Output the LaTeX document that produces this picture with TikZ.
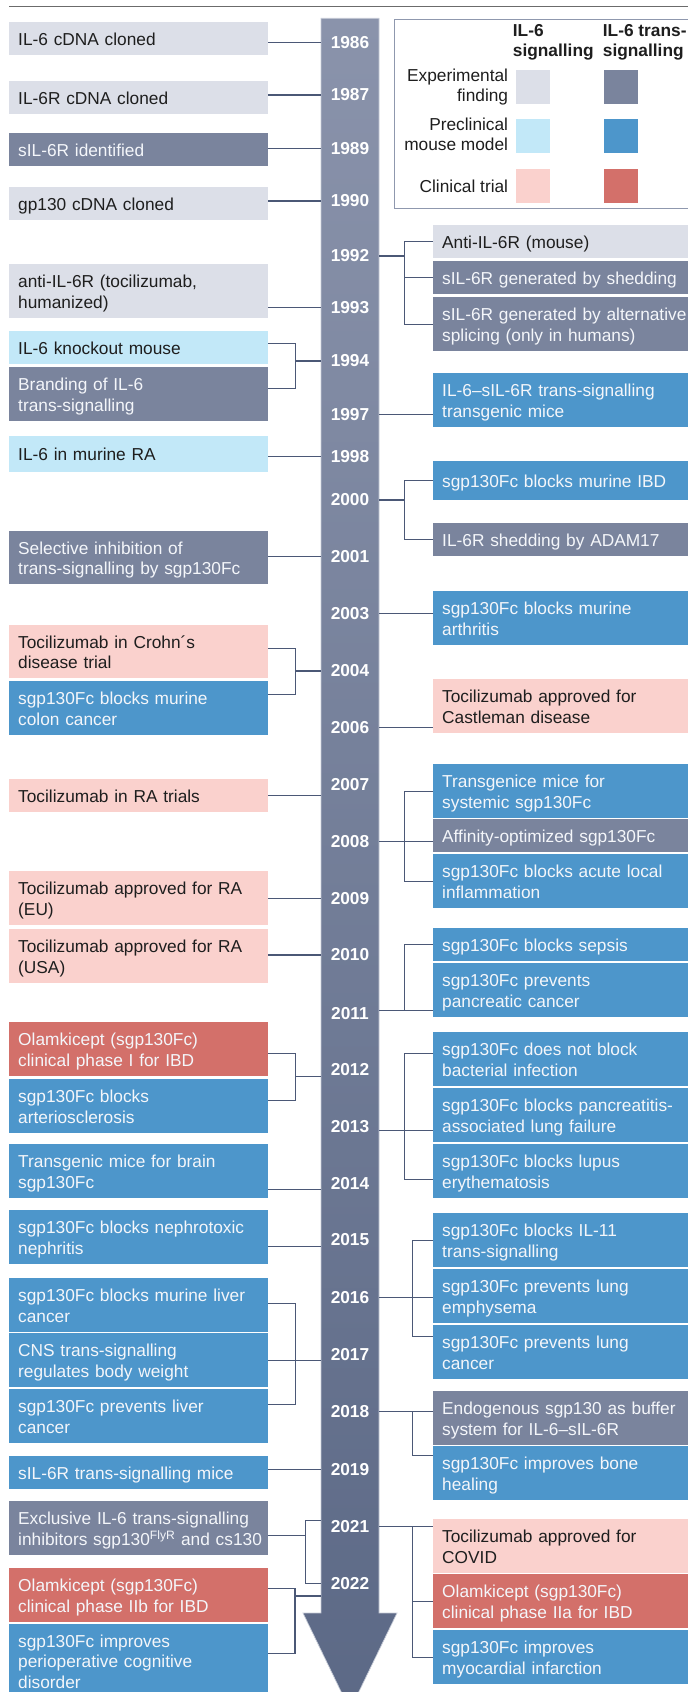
\documentclass[tikz,border=0pt]{standalone}
\usepackage{fontspec}
\setmainfont{Liberation Sans}

\definecolor{cisexpc}{HTML}{DCDFE8}
\definecolor{transexpc}{HTML}{7A849D}
\definecolor{cismousec}{HTML}{C2E8F8}
\definecolor{transmousec}{HTML}{4D96CB}
\definecolor{cistrialc}{HTML}{FAD1CD}
\definecolor{transtrialc}{HTML}{D3706A}
\definecolor{bartop}{HTML}{8A93AB}
\definecolor{barbot}{HTML}{5C6986}
\definecolor{baredge}{HTML}{C6CBD7}
\definecolor{linkc}{HTML}{4B5876}
\definecolor{framec}{HTML}{8F98AE}
\definecolor{rulec}{HTML}{6B6B6B}
\definecolor{darktext}{HTML}{1E1E1E}
\definecolor{lighttext}{HTML}{F4F6FA}

\newcommand\evtfont{\fontsize{17.3}{20}\selectfont}
\newcommand\evtstrut{\rule[-3.35pt]{0pt}{20pt}}

\begin{document}
\begin{tikzpicture}[x=1pt, y=-1pt,
  evt/.style={anchor=north west, inner xsep=9pt, inner ysep=6.35pt, align=left, font=\evtfont,
    execute at begin node=\evtstrut, execute at end node=\evtstrut},
  lbox/.style={evt, text width=241pt},
  rbox/.style={evt, text width=250pt},
  cisexp/.style={fill=cisexpc, text=darktext},
  transexp/.style={fill=transexpc, text=lighttext},
  cismouse/.style={fill=cismousec, text=darktext},
  transmouse/.style={fill=transmousec, text=lighttext},
  cistrial/.style={fill=cistrialc, text=darktext},
  transtrial/.style={fill=transtrialc, text=lighttext},
  yr/.style={font=\evtfont\bfseries, text=white, minimum width=58pt, inner sep=0pt},
  link/.style={draw=linkc, line width=1.1pt},
  keyhead/.style={anchor=north west, inner sep=0pt, align=left, font=\evtfont\bfseries, text=darktext,
    execute at begin node=\evtstrut, execute at end node=\evtstrut},
  keylabel/.style={anchor=east, inner sep=0pt, align=right, font=\evtfont, text=darktext,
    execute at begin node=\evtstrut, execute at end node=\evtstrut},
  swatch/.style={anchor=north west, minimum width=34pt, minimum height=33.7pt, inner sep=0pt}]
\useasboundingbox (0,0) rectangle (688,1692);
\clip (0,0) rectangle (688,1692);

\draw[rulec, line width=1pt] (9,6.7) -- (700,6.7);

% legend
\draw[framec, line width=0.9pt] (394.5,19.3) rectangle (700,208.3);
\node[keyhead] (hcis) at (512.7,24.35) {IL-6\\signalling};
\node[keyhead] (htrans) at (602.7,24.35) {IL-6 trans-\\signalling};
\node[swatch, cisexp] (k1) at (516,70) {};
\node[swatch, transexp] (k2) at (604,70) {};
\node[swatch, cismouse] (k3) at (516,119) {};
\node[swatch, transmouse] (k4) at (604,119) {};
\node[swatch, cistrial] (k5) at (516,169) {};
\node[swatch, transtrial] (k6) at (604,169) {};
\node[keylabel] (kexp) at (508.3,86.8) {Experimental\\finding};
\node[keylabel] (kmouse) at (508.3,135.8) {Preclinical\\mouse model};
\node[keylabel] (ktrial) at (508.3,185.8) {Clinical trial};

% time axis
\shade[top color=bartop, bottom color=barbot, draw=baredge, line width=0.7pt]
  (321,18.3) -- (379,18.3) -- (379,1613) -- (397,1613) -- (350,1710) -- (303,1613) -- (321,1613) -- cycle;

\node[yr] (y1986) at (350,42.7) {1986};
\node[yr] (y1987) at (350,95) {1987};
\node[yr] (y1989) at (350,148.3) {1989};
\node[yr] (y1990) at (350,201) {1990};
\node[yr] (y1992) at (350,256) {1992};
\node[yr] (y1993) at (350,307.7) {1993};
\node[yr] (y1994) at (350,361) {1994};
\node[yr] (y1997) at (350,414.3) {1997};
\node[yr] (y1998) at (350,456.7) {1998};
\node[yr] (y2000) at (350,500) {2000};
\node[yr] (y2001) at (350,556.7) {2001};
\node[yr] (y2003) at (350,613.3) {2003};
\node[yr] (y2004) at (350,671) {2004};
\node[yr] (y2006) at (350,727.7) {2006};
\node[yr] (y2007) at (350,784.3) {2007};
\node[yr] (y2008) at (350,841.7) {2008};
\node[yr] (y2009) at (350,898.3) {2009};
\node[yr] (y2010) at (350,955) {2010};
\node[yr] (y2011) at (350,1013.3) {2011};
\node[yr] (y2012) at (350,1070) {2012};
\node[yr] (y2013) at (350,1126.7) {2013};
\node[yr] (y2014) at (350,1183.3) {2014};
\node[yr] (y2015) at (350,1240) {2015};
\node[yr] (y2016) at (350,1297.7) {2016};
\node[yr] (y2017) at (350,1354.3) {2017};
\node[yr] (y2018) at (350,1411.7) {2018};
\node[yr] (y2019) at (350,1469.3) {2019};
\node[yr] (y2021) at (350,1526.7) {2021};
\node[yr] (y2022) at (350,1583.3) {2022};

% left column
\node[lbox, cisexp] (l1) at (9,22) {IL-6 cDNA cloned};
\node[lbox, cisexp] (l2) at (9,81) {IL-6R cDNA cloned};
\node[lbox, transexp] (l3) at (9,133) {sIL-6R identified};
\node[lbox, cisexp] (l4) at (9,187) {gp130 cDNA cloned};
\node[lbox, cisexp] (l5) at (9,264) {anti-IL-6R (tocilizumab,\\humanized)};
\node[lbox, cismouse] (l6) at (9,331) {IL-6 knockout mouse};
\node[lbox, transexp] (l7) at (9,367) {Branding of IL-6\\trans-signalling};
\node[lbox, cismouse, minimum height=35.7pt] (l8) at (9,436) {IL-6 in murine RA};
\node[lbox, transexp] (l9) at (9,531) {Selective inhibition of\\trans-signalling by sgp130Fc};
\node[lbox, cistrial] (l10) at (9,625) {Tocilizumab in Crohn´s\\disease trial};
\node[lbox, transmouse] (l11) at (9,681) {sgp130Fc blocks murine\\colon cancer};
\node[lbox, cistrial] (l12) at (9,779) {Tocilizumab in RA trials};
\node[lbox, cistrial] (l13) at (9,871) {Tocilizumab approved for RA\\(EU)};
\node[lbox, cistrial] (l14) at (9,929) {Tocilizumab approved for RA\\(USA)};
\node[lbox, transtrial] (l15) at (9,1022) {Olamkicept (sgp130Fc)\\clinical phase I for IBD};
\node[lbox, transmouse] (l16) at (9,1079) {sgp130Fc blocks\\arteriosclerosis};
\node[lbox, transmouse] (l17) at (9,1144) {Transgenic mice for brain\\sgp130Fc};
\node[lbox, transmouse] (l18) at (9,1210) {sgp130Fc blocks nephrotoxic\\nephritis};
\node[lbox, transmouse] (l19) at (9,1278) {sgp130Fc blocks murine liver\\cancer};
\node[lbox, transmouse] (l20) at (9,1333) {CNS trans-signalling\\regulates body weight};
\node[lbox, transmouse] (l21) at (9,1389) {sgp130Fc prevents liver\\cancer};
\node[lbox, transmouse] (l22) at (9,1456) {sIL-6R trans-signalling mice};
\node[lbox, transexp] (l23) at (9,1501) {Exclusive IL-6 trans-signalling\\\mbox{inhibitors sgp130\textsuperscript{FlyR} and cs130}};
\node[lbox, transtrial] (l24) at (9,1568) {Olamkicept (sgp130Fc)\\clinical phase IIb for IBD};
\node[lbox, transmouse] (l25) at (9,1624) {sgp130Fc improves\\perioperative cognitive\\disorder};

% right column
\node[rbox, cisexp] (r1) at (433,225) {Anti-IL-6R (mouse)};
\node[rbox, transexp] (r2) at (433,261) {sIL-6R generated by shedding};
\node[rbox, transexp] (r3) at (433,297) {sIL-6R generated by alternative\\splicing (only in humans)};
\node[rbox, transmouse] (r4) at (433,373) {IL-6–sIL-6R trans-signalling\\transgenic mice};
\node[rbox, transmouse, minimum height=39pt] (r5) at (433,461) {sgp130Fc blocks murine IBD};
\node[rbox, transexp] (r6) at (433,523) {IL-6R shedding by ADAM17};
\node[rbox, transmouse] (r7) at (433,591) {sgp130Fc blocks murine\\arthritis};
\node[rbox, cistrial] (r8) at (433,679) {Tocilizumab approved for\\Castleman disease};
\node[rbox, transmouse] (r9) at (433,764) {Transgenice mice for\\systemic sgp130Fc};
\node[rbox, transexp] (r10) at (433,819) {Affinity-optimized sgp130Fc};
\node[rbox, transmouse] (r11) at (433,854) {sgp130Fc blocks acute local\\inflammation};
\node[rbox, transmouse] (r12) at (433,928) {sgp130Fc blocks sepsis};
\node[rbox, transmouse] (r13) at (433,963) {sgp130Fc prevents\\pancreatic cancer};
\node[rbox, transmouse] (r14) at (433,1032) {sgp130Fc does not block\\bacterial infection};
\node[rbox, transmouse] (r15) at (433,1088) {sgp130Fc blocks pancreatitis-\\associated lung failure};
\node[rbox, transmouse] (r16) at (433,1144) {sgp130Fc blocks lupus\\erythematosis};
\node[rbox, transmouse] (r17) at (433,1213) {sgp130Fc blocks IL-11\\trans-signalling};
\node[rbox, transmouse] (r18) at (433,1269) {sgp130Fc prevents lung\\emphysema};
\node[rbox, transmouse] (r19) at (433,1325) {sgp130Fc prevents lung\\cancer};
\node[rbox, transexp] (r20) at (433,1391) {Endogenous sgp130 as buffer\\system for IL-6–sIL-6R};
\node[rbox, transmouse] (r21) at (433,1446) {sgp130Fc improves bone\\healing};
\node[rbox, cistrial] (r22) at (433,1519) {Tocilizumab approved for\\COVID};
\node[rbox, transtrial] (r23) at (433,1574) {Olamkicept (sgp130Fc)\\clinical phase IIa for IBD};
\node[rbox, transmouse] (r24) at (433,1630) {sgp130Fc improves\\myocardial infarction};

% links, left
\draw[link] (l1.east |- y1986) -- (y1986.west);
\draw[link] (l2.east |- y1987) -- (y1987.west);
\draw[link] (l3.east |- y1989) -- (y1989.west);
\draw[link] (l4.east |- y1990) -- (y1990.west);
\draw[link] (l5.east |- y1993) -- (y1993.west);
\draw[link] (y1994.west) -- ++(-25.5,0) coordinate (jl1994);
\draw[link] ([yshift=4pt]l6.east) -| (jl1994) |- ([yshift=5.5pt]l7.east);
\draw[link] (l8.east |- y1998) -- (y1998.west);
\draw[link] (l9.east |- y2001) -- (y2001.west);
\draw[link] (y2004.west) -- ++(-25.5,0) coordinate (jl2004);
\draw[link] ([yshift=2.7pt]l10.east) -| (jl2004) |- ([yshift=13.6pt]l11.east);
\draw[link] (l12.east) -- (l12.east -| y2007.west);
\draw[link] (l13.east |- y2009) -- (y2009.west);
\draw[link] (l14.east |- y2010) -- (y2010.west);
\draw[link] (y2012.south west) -- ++(-25.5,0) coordinate (jl2012);
\draw[link] ([yshift=-4pt]l15.east) -| (jl2012) |- ([yshift=5.3pt]l16.east);
\draw[link] (l17.east |- y2014.south) -- (y2014.south west);
\draw[link] (l18.east |- y2015.south) -- (y2015.south west);
\draw[link] (y2017.south west) -- ++(-25.5,0) coordinate (jl2017) -- (y2017.south west -| l20.east);
\draw[link] ([yshift=2pt]l19.east) -| (jl2017) |- ([yshift=12pt]l21.east);
\draw[link] (l22.east |- y2019) -- (y2019.west);
\draw[link] (y2021.north west) -- ++(-15,0) coordinate (jl2021) |- (y2022.west);
\draw[link] ([yshift=-7pt]l23.east) -| (jl2021);
\coordinate (jl2022) at (295,1596);
\draw[link] (jl2022) -- (jl2022 -| y2022.west);
\draw[link] ([yshift=6.6pt]l24.east) -| (jl2022) |- ([yshift=8pt]l25.east);

% links, right
\draw[link] (y1992.east) -- ++(25.3,0) coordinate (jr1992);
\draw[link] (r1.west) -| (jr1992) |- (r3.west);
\draw[link] (r2.west) -| (jr1992);
\draw[link] (y1997.east) -- (y1997 -| r4.west);
\draw[link] (y2000.east) -- ++(25.3,0) coordinate (jr2000);
\draw[link] (r5.west) -| (jr2000) |- (r6.west);
\draw[link] (y2003.east) -- (y2003 -| r7.west);
\draw[link] (y2006.east) -- (y2006 -| r8.west);
\draw[link] (y2008.east) -- ++(25.3,0) coordinate (jr2008) -- (y2008 -| r10.west);
\draw[link] (r9.west) -| (jr2008) |- (r11.west);
\draw[link] ([yshift=3pt]y2011.east) -- ++(25.3,0) coordinate (jr2011) -- (jr2011 -| r13.west);
\draw[link] (r12.west) -| (jr2011);
\draw[link] ([yshift=-4pt]y2013.east) -- ++(25.3,0) coordinate (jr2013) -- (jr2013 -| r15.west);
\draw[link] ([yshift=6pt]r14.west) -| (jr2013) |- ([yshift=-8pt]r16.west);
\draw[link] (y2016.east) -- ++(33.3,0) coordinate (jr2016) -- (jr2016 -| r18.west);
\draw[link] (r17.west) -| (jr2016) |- ([yshift=16pt]r19.west);
\draw[link] (y2018.east) -- ++(33.3,0) coordinate (jr2018) -- (jr2018 -| r20.west);
\draw[link] (jr2018) |- ([yshift=18pt]r21.west);
\draw[link] (y2021.east) -- ++(33.3,0) coordinate (jr2021) -- (jr2021 -| r22.west);
\draw[link] (jr2021) |- (r24.west);
\draw[link] (r23.west) -| (jr2021);
\end{tikzpicture}
\end{document}
